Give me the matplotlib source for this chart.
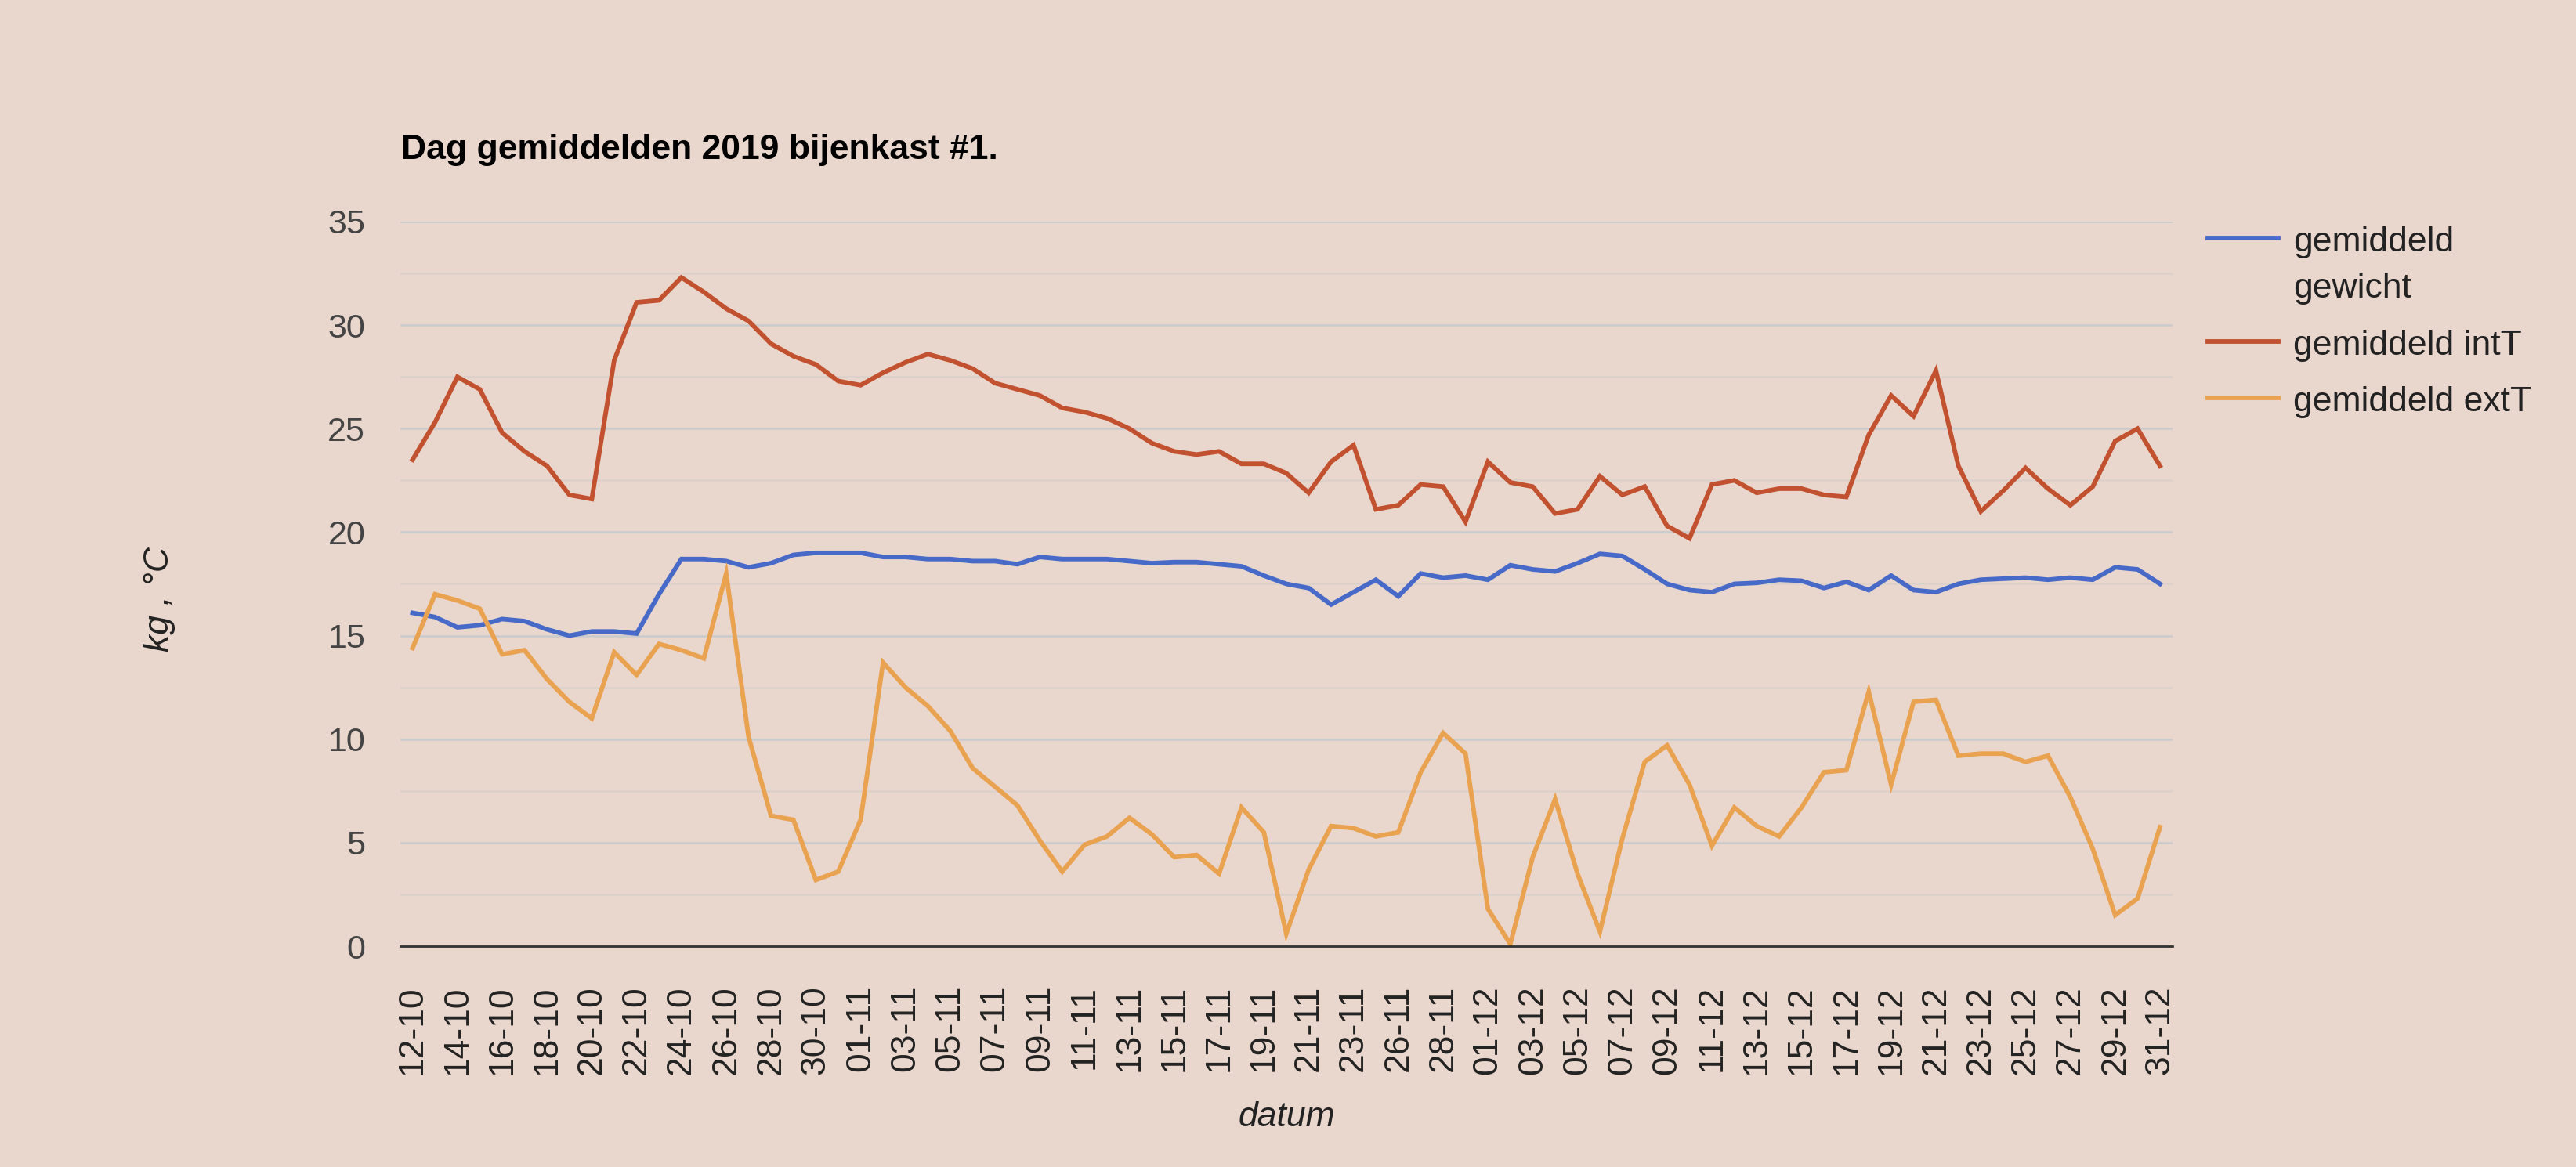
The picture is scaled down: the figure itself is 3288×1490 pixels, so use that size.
import matplotlib
matplotlib.use('Agg')
import matplotlib.pyplot as plt
from matplotlib.lines import Line2D
import numpy as np

# dates (25-11 and 30-11 are absent in the data)
datums = ['12-10', '13-10', '14-10', '15-10', '16-10', '17-10', '18-10', '19-10', '20-10', '21-10',
          '22-10', '23-10', '24-10', '25-10', '26-10', '27-10', '28-10', '29-10', '30-10', '31-10',
          '01-11', '02-11', '03-11', '04-11', '05-11', '06-11', '07-11', '08-11', '09-11', '10-11',
          '11-11', '12-11', '13-11', '14-11', '15-11', '16-11', '17-11', '18-11', '19-11', '20-11',
          '21-11', '22-11', '23-11', '24-11', '26-11', '27-11', '28-11', '29-11', '01-12', '02-12',
          '03-12', '04-12', '05-12', '06-12', '07-12', '08-12', '09-12', '10-12', '11-12', '12-12',
          '13-12', '14-12', '15-12', '16-12', '17-12', '18-12', '19-12', '20-12', '21-12', '22-12',
          '23-12', '24-12', '25-12', '26-12', '27-12', '28-12', '29-12', '30-12', '31-12']

gewicht = [16.1, 15.9, 15.4, 15.5, 15.8, 15.7, 15.3, 15.0, 15.2, 15.2,
           15.1, 17.0, 18.7, 18.7, 18.6, 18.3, 18.5, 18.9, 19.0, 19.0,
           19.0, 18.8, 18.8, 18.7, 18.7, 18.6, 18.6, 18.45, 18.8, 18.7,
           18.7, 18.7, 18.6, 18.5, 18.55, 18.55, 18.45, 18.35, 17.9, 17.5,
           17.3, 16.5, 17.1, 17.7, 16.9, 18.0, 17.8, 17.9, 17.7, 18.4,
           18.2, 18.1, 18.5, 18.95, 18.85, 18.2, 17.5, 17.2, 17.1, 17.5,
           17.55, 17.7, 17.65, 17.3, 17.6, 17.2, 17.9, 17.2, 17.1, 17.5,
           17.7, 17.75, 17.8, 17.7, 17.8, 17.7, 18.3, 18.2, 17.5]

int_t = [23.5, 25.3, 27.5, 26.9, 24.8, 23.9, 23.2, 21.8, 21.6, 28.3,
         31.1, 31.2, 32.3, 31.6, 30.8, 30.2, 29.1, 28.5, 28.1, 27.3,
         27.1, 27.7, 28.2, 28.6, 28.3, 27.9, 27.2, 26.9, 26.6, 26.0,
         25.8, 25.5, 25.0, 24.3, 23.9, 23.75, 23.9, 23.3, 23.3, 22.85,
         21.9, 23.4, 24.2, 21.1, 21.3, 22.3, 22.2, 20.5, 23.4, 22.4,
         22.2, 20.9, 21.1, 22.7, 21.8, 22.2, 20.3, 19.7, 22.3, 22.5,
         21.9, 22.1, 22.1, 21.8, 21.7, 24.7, 26.6, 25.6, 27.8, 23.2,
         21.0, 22.0, 23.1, 22.1, 21.3, 22.2, 24.4, 25.0, 23.2]

ext_t = [14.4, 17.0, 16.7, 16.3, 14.1, 14.3, 12.9, 11.8, 11.0, 14.2,
         13.1, 14.6, 14.3, 13.9, 18.0, 10.1, 6.3, 6.1, 3.2, 3.6,
         6.1, 13.7, 12.5, 11.6, 10.4, 8.6, 7.7, 6.8, 5.1, 3.6,
         4.9, 5.3, 6.2, 5.4, 4.3, 4.4, 3.5, 6.7, 5.5, 0.6,
         3.7, 5.8, 5.7, 5.3, 5.5, 8.4, 10.3, 9.3, 1.8, 0.1,
         4.3, 7.1, 3.5, 0.7, 5.2, 8.9, 9.7, 7.8, 4.85, 6.7,
         5.8, 5.3, 6.7, 8.4, 8.5, 12.3, 7.8, 11.8, 11.9, 9.2,
         9.3, 9.3, 8.9, 9.2, 7.2, 4.7, 1.5, 2.3, 5.75]

series_names = ['gemiddeld\ngewicht', 'gemiddeld intT', 'gemiddeld extT']
series_colors = ['#4769C8', '#C2522F', '#E9A250']

bg = '#E9D6CD'
plt.rcParams['font.family'] = ['Liberation Sans', 'DejaVu Sans']

W, H = 3288, 1490
fig = plt.figure(figsize=(W / 200, H / 200), dpi=200, facecolor=bg)
ax = fig.add_axes([510.6 / W, 1 - 1208 / H, (2773 - 510.6) / W, (1208 - 283) / H])
ax.set_facecolor(bg)

x = np.arange(len(datums))
for vals, col in zip([gewicht, int_t, ext_t], series_colors):
    ax.plot(x, vals, color=col, lw=2.1, solid_joinstyle='miter', zorder=3)

ax.set_xlim(-0.56, len(datums) - 1 + 0.56)
ax.set_ylim(0, 35)
ax.set_yticks(np.arange(0, 36, 5))
ax.set_yticks(np.arange(2.5, 35, 5), minor=True)
ax.grid(axis='y', which='major', color='#CBCBCE', lw=0.9, zorder=0)
ax.grid(axis='y', which='minor', color='#DCD0CB', lw=0.9, zorder=0)
ax.set_xticks(x[::2])
ax.set_xticklabels(datums[::2], rotation=90, va='top', ha='center')
ax.tick_params(axis='x', length=0, pad=18, labelsize=16, labelcolor='#222222')
ax.tick_params(axis='y', which='both', length=0, pad=16, labelsize=15.5, labelcolor='#444444')
for side in ['left', 'right', 'top']:
    ax.spines[side].set_visible(False)
ax.spines['bottom'].set_color('#333333')
ax.spines['bottom'].set_linewidth(1.0)
ax.spines['bottom'].set_zorder(4)

fig.text(512 / W, 1 - 203 / H, 'Dag gemiddelden 2019 bijenkast #1.', fontsize=16,
         fontweight='bold', color='black', va='baseline', ha='left')
fig.text(1642 / W, 1 - 1426 / H, 'datum', fontsize=16, style='italic', color='#222222',
         ha='center', va='center')
fig.text(203 / W, 1 - 765 / H, 'kg , \u00b0C', fontsize=16, style='italic', color='#222222',
         rotation=90, ha='center', va='center')

# legend drawn by hand so the wrapped label keeps its line on the first row
leg_line_y = [304, 436, 508]
leg_text_base = [[321, 380], [453], [525]]
for name, col, ly, bases in zip(series_names, series_colors, leg_line_y, leg_text_base):
    fig.add_artist(Line2D([2818 / W, 2908 / W], [1 - ly / H, 1 - ly / H], color=col, lw=2.1,
                          transform=fig.transFigure))
    for part, b in zip(name.split('\n'), bases):
        fig.text(2927 / W, 1 - b / H, part, fontsize=16, color='#222222', ha='left', va='baseline')

fig.savefig('out.png', dpi=200, facecolor=bg)
